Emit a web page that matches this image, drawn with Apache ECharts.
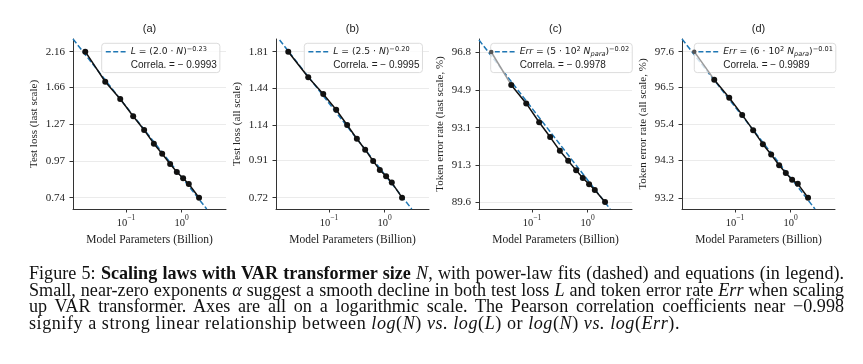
<!DOCTYPE html>
<html><head><meta charset="utf-8">
<script src="https://cdn.jsdelivr.net/npm/echarts@6/dist/echarts.min.js"></script>
<style>
html,body{margin:0;padding:0;background:#fff;}
#wrap{position:relative;width:863px;height:364px;overflow:hidden;background:#fff;}
#chart{position:absolute;left:0;top:0;width:863px;height:364px;}
#cap{position:absolute;left:29px;top:265px;width:815px;font-family:'Liberation Serif','Times New Roman',serif;color:#111;}
#cap .ln{white-space:nowrap;line-height:16.7px;height:16.7px;}
#cap .ln span{display:inline-block;white-space:nowrap;}
</style></head><body>
<div id="wrap"><div id="chart"></div>
<div id="cap">
<div class="ln j"><span>Figure 5: <b>Scaling laws with VAR transformer size</b> <i>N</i>, with power-law fits (dashed) and equations (in legend).</span></div>
<div class="ln j"><span>Small, near-zero exponents <i>α</i> suggest a smooth decline in both test loss <i>L</i> and token error rate <i>Err</i> when scaling</span></div>
<div class="ln j"><span>up VAR transformer. Axes are all on a logarithmic scale. The Pearson correlation coefficients near −0.998</span></div>
<div class="ln" id="last"><span>signify a strong linear relationship between <i>log</i>(<i>N</i>) <i>vs.</i> <i>log</i>(<i>L</i>) or <i>log</i>(<i>N</i>) <i>vs.</i> <i>log</i>(<i>Err</i>).</span></div>
</div>
</div>
<script>
// ---------- data ----------
const params = [0.0185, 0.0423, 0.0787, 0.1346, 0.212, 0.317, 0.447, 0.622, 0.820, 1.064, 1.347, 2.06];
const lossLast = [2.16, 1.733, 1.527, 1.345, 1.216, 1.100, 1.022, 0.947, 0.894, 0.853, 0.818, 0.74];
const lossAll  = [1.81, 1.540, 1.386, 1.255, 1.139, 1.045, 0.975, 0.908, 0.858, 0.824, 0.792, 0.72];
const errLast  = [96.8, 95.17, 94.27, 93.36, 92.65, 92.00, 91.53, 91.08, 90.72, 90.43, 90.16, 89.6];
const errAll   = [97.6, 96.74, 96.19, 95.67, 95.21, 94.79, 94.48, 94.16, 93.93, 93.73, 93.61, 93.2];

const fitXA = [0.01113, 2.83];  const fitYA = [2.371, 0.681];
const fitXB = [0.01292, 3.08];  const fitYB = [1.949, 0.670];
const fitXC = [0.01113, 2.54];  const fitYC = [97.40, 89.28];
const fitXD = [0.01113, 2.75];  const fitYD = [97.99, 92.87];

const ticksA = ['0.74', '0.97', '1.27', '1.66', '2.16'];
const ticksB = ['0.72', '0.91', '1.14', '1.44', '1.81'];
const ticksC = ['89.6', '91.3', '93.1', '94.9', '96.8'];
const ticksD = ['93.2', '94.3', '95.4', '96.5', '97.6'];
const xTicks = [0.1, 1];

const titles = ['(a)', '(b)', '(c)', '(d)'];
const yNames = ['Test loss (last scale)', 'Test loss (all scale)', 'Token error rate (last scale, %)', 'Token error rate (all scale, %)'];
const xName = 'Model Parameters (Billion)';
const fitLabels = [
  '{i|L}{m| = (2.0 · }{i|N}{m|)}{sup|−0.23}',
  '{i|L}{m| = (2.5 · }{i|N}{m|)}{sup|−0.20}',
  '{i|Err}{m| = (5 · 10}{sup|2}{m| }{i|N}{sub|para}{m|)}{sup|−0.02}',
  '{i|Err}{m| = (6 · 10}{sup|2}{m| }{i|N}{sub|para}{m|)}{sup|−0.01}'
];
const corrLabels = ['Correla. = − 0.9993', 'Correla. = − 0.9995', 'Correla. = − 0.9978', 'Correla. = − 0.9989'];

// ---------- layout ----------
const panels = [
  {left: 73,  ys: lossLast, ticks: ticksA, yMin: 0.681, yMax: 2.371, fx: fitXA, fy: fitYA, gray: false, legLeft: 101.7},
  {left: 276, ys: lossAll,  ticks: ticksB, yMin: 0.6704, yMax: 1.961, fx: fitXB, fy: fitYB, gray: false, legLeft: 304.3},
  {left: 479, ys: errLast,  ticks: ticksC, yMin: 89.28, yMax: 97.45, fx: fitXC, fy: fitYC, gray: true,  legLeft: 490.7},
  {left: 682, ys: errAll,   ticks: ticksD, yMin: 92.87, yMax: 97.99, fx: fitXD, fy: fitYD, gray: true,  legLeft: 694.3}
];
const W = 153, TOP = 39, H = 170;
const X_MIN = 0.01113, X_MAX = 6.29;
const AX = '#333', TXT = '#222', FIT = '#1f77b4';
const SERIF = 'Liberation Serif', SANS = 'Liberation Sans';
const DASH_ICON = 'path://M0,0h5v1.5h-5z M7.4,0h5v1.5h-5z M14.8,0h5v1.5h-5z';

const grid = [], xAxis = [], yAxis = [], series = [], legend = [], title = [];
panels.forEach((p, i) => {
  grid.push({left: p.left, top: TOP, width: W, height: H, containLabel: false, outerBoundsMode: 'none'});
  title.push({text: titles[i], left: p.left + W / 2, top: 23, textAlign: 'center', padding: 0,
    textStyle: {fontFamily: SANS, fontSize: 11, fontWeight: 'normal', color: TXT}});
  xAxis.push({
    type: 'log', logBase: 10, gridIndex: i, min: X_MIN, max: X_MAX,
    axisLine: {show: true, lineStyle: {color: AX, width: 1}},
    axisTick: {show: true, length: 3.5, customValues: xTicks, lineStyle: {color: AX, width: 1}},
    minorTick: {show: false}, splitLine: {show: false},
    axisLabel: {
      customValues: xTicks, margin: 5, color: TXT,
      formatter: v => {
        const e = Math.round(Math.log10(v));
        return '{b|10}{s|' + (e < 0 ? '−' + (-e) : e) + '}';
      },
      rich: {
        b: {fontFamily: SERIF, fontSize: 10.5, color: TXT, verticalAlign: 'bottom', lineHeight: 15},
        s: {fontFamily: SERIF, fontSize: 7.5, color: TXT, verticalAlign: 'top', lineHeight: 15}
      }
    },
    name: xName, nameLocation: 'middle', nameGap: 25,
    nameTextStyle: {fontFamily: SERIF, fontSize: 11.5, color: TXT}
  });
  const tv = p.ticks.map(Number);
  yAxis.push({
    type: 'log', logBase: 10, gridIndex: i, min: p.yMin, max: p.yMax,
    axisLine: {show: true, lineStyle: {color: AX, width: 1}},
    axisTick: {show: true, length: 3.5, customValues: tv, lineStyle: {color: AX, width: 1}},
    minorTick: {show: false},
    splitLine: {show: true, lineStyle: {color: '#ebebeb', width: 1}},
    axisLabel: {
      customValues: tv, margin: 8, color: TXT, fontFamily: SERIF, fontSize: 11,
      formatter: v => p.ticks[tv.indexOf(v)] !== undefined ? p.ticks[tv.indexOf(v)] : String(v)
    },
    name: yNames[i], nameLocation: 'middle', nameGap: 33, nameRotate: 90,
    nameTextStyle: {fontFamily: SERIF, fontSize: 11, color: TXT}
  });
  const fitName = 'fit' + i, corrName = 'corr' + i;
  series.push({
    name: fitName, type: 'line', xAxisIndex: i, yAxisIndex: i, symbol: 'none', z: 3,
    data: p.fx.map((x, j) => [x, p.fy[j]]),
    lineStyle: {color: FIT, width: 1.5, type: [5.5, 2.4]}, itemStyle: {color: FIT},
    silent: true, animation: false
  });
  series.push({
    name: corrName, type: 'line', xAxisIndex: i, yAxisIndex: i, symbol: 'none', data: [],
    lineStyle: {opacity: 0}, itemStyle: {opacity: 0}, animation: false
  });
  const pts = params.map((x, j) => [x, p.ys[j]]);
  if (p.gray) {
    series.push({
      name: 'g' + i, type: 'line', xAxisIndex: i, yAxisIndex: i, z: 4,
      data: pts.slice(0, 2), symbol: 'circle', symbolSize: (v, prm) => prm.dataIndex === 0 ? 4.5 : 0,
      lineStyle: {color: '#9a9a9a', width: 1.5}, itemStyle: {color: '#555'}, animation: false
    });
  }
  series.push({
    name: 'd' + i, type: 'line', xAxisIndex: i, yAxisIndex: i, z: 5,
    data: p.gray ? pts.slice(1) : pts, symbol: 'circle', symbolSize: 6,
    lineStyle: {color: '#111', width: 1.5}, itemStyle: {color: '#111'}, animation: false
  });
  legend.push({
    left: p.legLeft, top: 43.3, orient: 'vertical', selectedMode: false,
    itemWidth: 20, itemHeight: 1.5, itemGap: 1.3, padding: [2.5, 3, 1.5, 4],
    backgroundColor: 'rgba(255,255,255,0.8)', borderColor: '#dcdcdc', borderWidth: 1, borderRadius: 3,
    data: [
      {name: fitName, icon: DASH_ICON, itemStyle: {color: FIT, opacity: 1}},
      {name: corrName, icon: 'none', lineStyle: {opacity: 0}, itemStyle: {opacity: 0}}
    ],
    formatter: n => n === fitName ? fitLabels[i] : corrLabels[i],
    textStyle: {
      fontFamily: SANS, fontSize: 10, color: TXT, lineHeight: 12,
      rich: {
        i: {fontFamily: 'DejaVu Sans', fontStyle: 'italic', fontSize: 9.2, color: TXT, lineHeight: 12},
        m: {fontFamily: 'DejaVu Sans', fontSize: 9.2, color: TXT, lineHeight: 12},
        sup: {fontFamily: 'DejaVu Sans', fontSize: 6.6, color: TXT, verticalAlign: 'top', lineHeight: 12},
        sub: {fontFamily: 'DejaVu Sans', fontStyle: 'italic', fontSize: 6.6, color: TXT, verticalAlign: 'bottom', lineHeight: 12}
      }
    }
  });
});

const chart = echarts.init(document.getElementById('chart'), null, {renderer: 'canvas'});
chart.setOption({
  animation: false, backgroundColor: '#fff',
  title, grid, xAxis, yAxis, series, legend
});

// ---------- caption justification ----------
(function () {
  const cap = document.getElementById('cap');
  const spans = Array.from(document.querySelectorAll('#cap .j span'));
  let fs = 16;
  cap.style.fontSize = fs + 'px';
  const maxW = Math.max.apply(null, spans.map(s => s.getBoundingClientRect().width));
  fs = fs * 806 / maxW;
  cap.style.fontSize = fs + 'px';
  spans.forEach(s => {
    const w = s.getBoundingClientRect().width;
    const spaces = (s.textContent.match(/ /g) || []).length;
    s.style.wordSpacing = ((815 - w) / spaces) + 'px';
  });
  const last = document.querySelector('#last span');
  const wl = last.getBoundingClientRect().width;
  const n = last.textContent.length;
  last.style.letterSpacing = ((651 - wl) / n) + 'px';
})();
</script>
</body></html>
